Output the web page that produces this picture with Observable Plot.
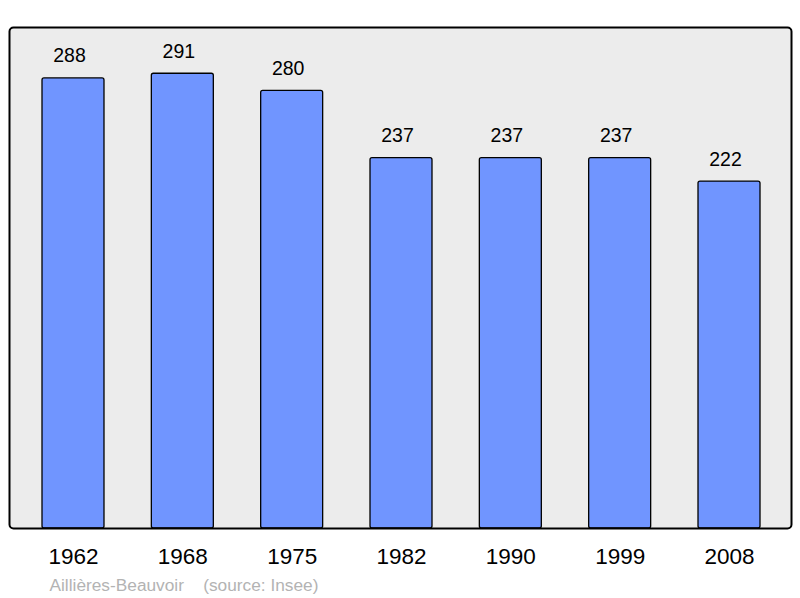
<!DOCTYPE html>
<html>
<head>
<meta charset="utf-8">
<script src="https://cdn.jsdelivr.net/npm/d3@7"></script>
<script src="https://cdn.jsdelivr.net/npm/@observablehq/plot@0.6"></script>
<style>
  html, body { margin: 0; padding: 0; background: white; }
  svg { display: block; }
</style>
</head>
<body>
<div id="chart"></div>
<script>
const years = ["1962", "1968", "1975", "1982", "1990", "1999", "2008"];
const population = [288, 291, 280, 237, 237, 237, 222];
const caption = "Aillières-Beauvoir\u00a0\u00a0\u00a0\u00a0(source: Insee)";

const data = years.map((y, i) => ({year: y, value: population[i]}));

const chart = Plot.plot({
  width: 800,
  height: 598,
  marginLeft: 9,
  marginRight: 9,
  marginTop: 27,
  marginBottom: 70,
  style: {fontFamily: "'Liberation Sans', Arial, sans-serif", background: "white"},
  x: {domain: years, range: [10, 792], round: false, paddingInner: 0.433, paddingOuter: 0.2927, label: null},
  y: {domain: [0, 320.6], axis: null},
  marks: [
    Plot.frame({fill: "#ececec", stroke: null, rx: 4}),
    Plot.barY(data, {x: "year", y: "value", fill: "#7095ff", stroke: "black", strokeWidth: 1.3, rx: 2}),
    Plot.text(data, {x: "year", y: "value", text: d => String(d.value), dx: -4, dy: -16, lineAnchor: "bottom", fontSize: 19.5, fill: "black"}),
    Plot.frame({stroke: "black", strokeWidth: 2, rx: 4}),
    Plot.axisX({tickSize: 0, tickPadding: 20, fontSize: 22.5, fill: "black", label: null}),
    Plot.text([caption], {frameAnchor: "bottom-left", dx: 40, dy: 62, lineAnchor: "bottom", textAnchor: "start", fontSize: 17.3, fill: "#b3b3b3"})
  ]
});
document.getElementById("chart").appendChild(chart);
</script>
</body>
</html>
